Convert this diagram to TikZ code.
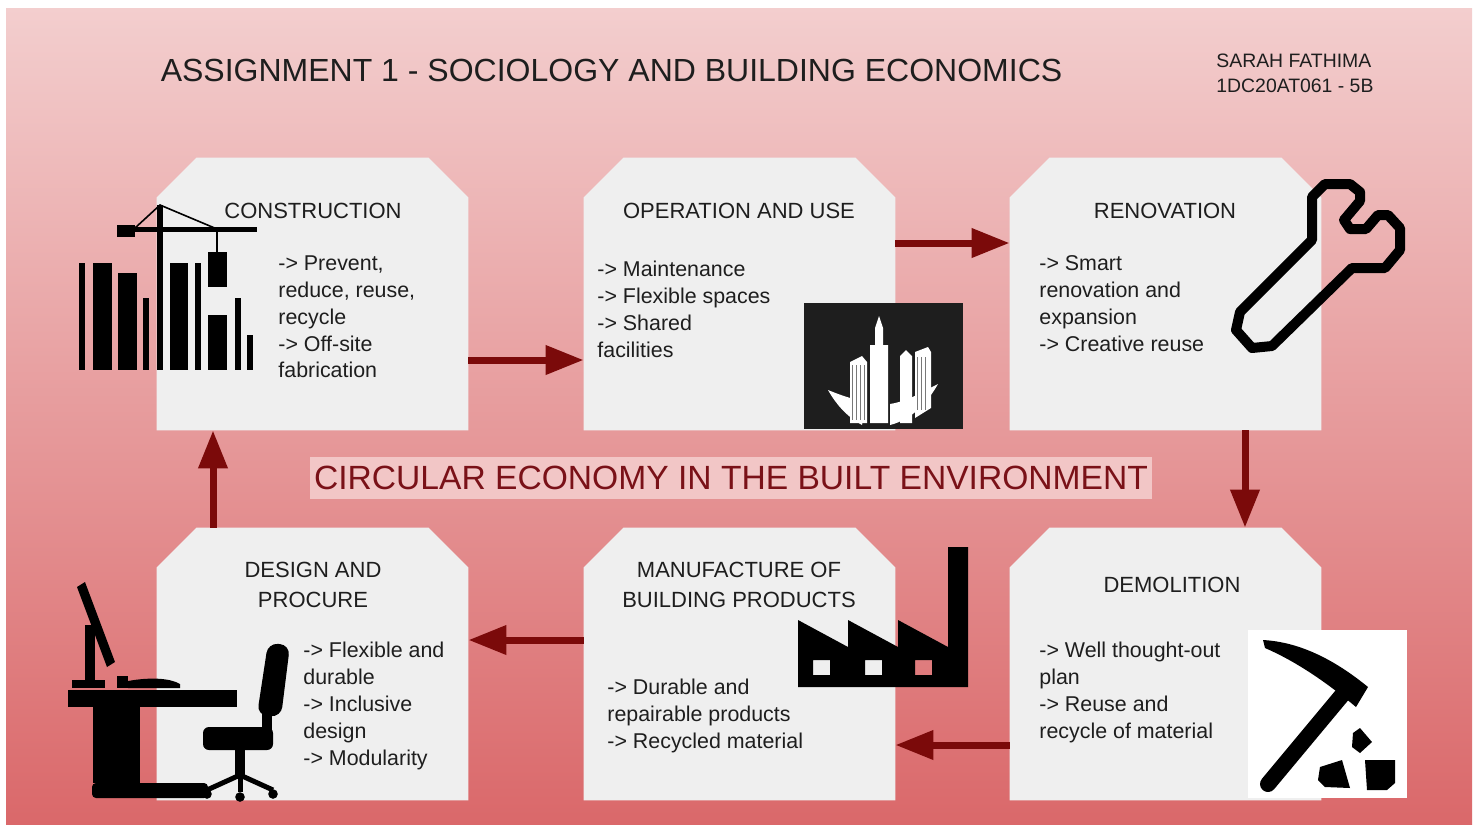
\documentclass[tikz,border=0pt]{standalone}
\usepackage{fontspec}
\setmainfont{Liberation Sans}
\usetikzlibrary{arrows.meta}

\definecolor{bgtop}{HTML}{F3CECE}
\definecolor{bgmid}{HTML}{E9A2A2}
\definecolor{bgbot}{HTML}{DA686A}
\definecolor{panel}{HTML}{EFEFEF}
\definecolor{maroon}{HTML}{7B0A0A}
\definecolor{bandpink}{HTML}{F2C6C6}
\definecolor{bandtxt}{HTML}{7A1118}
\definecolor{darktxt}{HTML}{1E1E1E}
\definecolor{cityblack}{HTML}{1E1E1E}

\begin{document}
\begin{tikzpicture}[x=0.5pt,y=-0.5pt,
    stage/.style={rectangle, minimum width=155.5pt, minimum height=136pt, inner sep=0pt},
    flow/.style={maroon, line width=3.5pt, -{Triangle[length=19pt,width=14pt]}},
    headtxt/.style={darktxt, font=\fontsize{11}{15}\selectfont, align=center, inner sep=0pt},
    bodytxt/.style={darktxt, font=\fontsize{10.7}{13.4}\selectfont, align=left, anchor=north west, inner sep=0pt}]

    \useasboundingbox (0,0) rectangle (1478,827);
    \shade[top color=bgtop, middle color=bgmid, bottom color=bgbot] (6,8) rectangle (1472,824); % backdrop

    % headings
    \node[darktxt, font=\fontsize{16}{18}\selectfont, inner sep=0pt] (title) at (611.5,70) {ASSIGNMENT 1 - SOCIOLOGY AND BUILDING ECONOMICS};
    \node[darktxt, font=\fontsize{9.7}{12.5}\selectfont, align=left, anchor=north west, inner sep=0pt] (student) at (1216,54) {SARAH FATHIMA\\1DC20AT061 - 5B};

    % the six stages
    \node[stage] (cons) at (312.5,294) {};
    \node[stage] (oper) at (739.5,294) {};
    \node[stage] (renov) at (1165.5,294) {};
    \node[stage] (design) at (312.5,664) {};
    \node[stage] (manu) at (739.5,664) {};
    \node[stage] (demo) at (1165.5,664) {};
    \foreach \s in {cons,oper,renov,design,manu,demo}
        \fill[panel] (\s.south west) -- ([yshift=-20pt]\s.north west) -- ([xshift=20pt]\s.north west)
            -- ([xshift=-20pt]\s.north east) -- ([yshift=-20pt]\s.north east) -- (\s.south east) -- cycle;

    % crane and blocks
    \fill (79,263) rectangle (85,370);
    \fill (93,263) rectangle (112,370);
    \fill (118,273) rectangle (137,370);
    \fill (143,298) rectangle (149,370);
    \fill (157,205) rectangle (163,370); % mast
    \fill (170,263) rectangle (188,370);
    \fill (195,263) rectangle (201,370);
    \fill (208,315) rectangle (227,370);
    \fill (208,252) rectangle (227,287); % load on the hook
    \fill (235,298) rectangle (241,370);
    \fill (247,335) rectangle (253,370);
    \fill (117,227) rectangle (257,232); % jib
    \fill (117,225) rectangle (135,237);
    \draw[line width=1pt] (217,232) -- (217,252);
    \draw[line width=0.8pt] (135,228) -- (160,205) -- (217,229);

    % city tile
    \fill[cityblack] (804,303) rectangle (963,429);
    \fill[white] (870,423) -- (870,345) -- (875,345) -- (875,328) -- (879,316) -- (883,328) -- (883,345) -- (888,345) -- (888,423) -- cycle;
    \fill[white] (850,423) -- (850,362) -- (862,356) -- (867,362) -- (867,423) -- cycle;
    \fill[white] (900,423) -- (900,356) -- (906,350) -- (912,356) -- (912,423) -- cycle;
    \fill[white] (915,418) -- (915,352) -- (928,347) -- (931,352) -- (931,408) -- cycle;
    \fill[white] (828,390) .. controls (836,404) and (846,416) .. (862,425) -- (866,402) .. controls (852,399) and (840,395) .. (828,390);
    \fill[white] (890,425) .. controls (910,420) and (926,405) .. (938,384) -- (922,392) .. controls (912,398) and (902,402) .. (890,404) -- cycle;
    \foreach \k in {0,1,2,3} \draw[cityblack!60, line width=0.4pt] (852+\k*4,365) -- (852+\k*4,420);
    \foreach \k in {0,1,2} \draw[cityblack!60, line width=0.4pt] (917+\k*4,357) -- (917+\k*4,410);

    % wrench
    \draw[line width=5pt, line join=round] (1240,312) -- (1236,330) -- (1252,348) -- (1272,346) -- (1352,268)
        -- (1385,268) -- (1400,250) -- (1400,228) -- (1388,215) -- (1378,215) -- (1366,229) -- (1350,229)
        -- (1344,220) -- (1360,201) -- (1360,192) -- (1350,184) -- (1325,184) -- (1312,197) -- (1312,240) -- cycle;

    % desk and chair
    \fill (77,587) -- (85,582) -- (115,662) -- (107,667) -- cycle;
    \fill (85,625) rectangle (95,681);
    \fill (72,680) rectangle (105,688);
    \fill (117,676) rectangle (128,688);
    \fill (128,681) .. controls (150,677) and (170,678) .. (180,684) -- (180,688) -- (128,688) -- cycle;
    \fill (68,690) rectangle (237,707);
    \fill (93,707) rectangle (140,783);
    \fill[rounded corners=2pt] (92,783) rectangle (208,798);
    \fill[rounded corners=5pt] (268,643) -- (290,645) -- (281,717) -- (257,715) -- cycle;
    \fill (262,710) rectangle (272,730);
    \fill[rounded corners=3pt] (203,727) rectangle (273,750);
    \fill (235,750) rectangle (245,775);
    \draw[line width=2.5pt] (207,790) -- (240,775) -- (273,790);
    \draw[line width=2.5pt] (240,775) -- (240,792);
    \fill (207,794) circle (2.4pt) (240,797) circle (2.4pt) (273,794) circle (2.4pt);

    % factory
    \fill[even odd rule] (798,687) -- (798,620) -- (848,647) -- (848,620) -- (898,647) -- (898,620) -- (948,647)
        -- (948,547) -- (968,547) -- (968,687) -- cycle
        (813,660) rectangle (830,675) (865,660) rectangle (882,675) (915,660) rectangle (932,675);

    % pickaxe and rubble
    \fill[white] (1248,630) rectangle (1407,798);
    \fill (1263,640) .. controls (1300,642) and (1335,660) .. (1368,687) -- (1356,707)
        .. controls (1325,681) and (1295,661) .. (1265,648) -- cycle;
    \draw[line width=8pt, line cap=round] (1343,694) -- (1268,784);
    \fill (1320,767) -- (1342,760) -- (1350,788) -- (1325,787) -- (1318,780) -- cycle;
    \fill (1365,760) -- (1395,760) -- (1395,783) -- (1387,790) -- (1367,790) -- cycle;
    \fill (1353,733) -- (1360,728) -- (1372,742) -- (1360,753) -- (1352,747) -- cycle;

    % stage texts
    \node[headtxt] (consT) at (313,211) {CONSTRUCTION};
    \node[bodytxt] (consB) at (278,255.5) {-> Prevent,\\reduce, reuse,\\recycle\\-> Off-site\\fabrication};
    \node[headtxt] (operT) at (739,211) {OPERATION AND USE};
    \node[bodytxt] (operB) at (597,261) {-> Maintenance\\-> Flexible spaces\\-> Shared\\facilities};
    \node[headtxt] (renovT) at (1165,211) {RENOVATION};
    \node[bodytxt] (renovB) at (1039,255.5) {-> Smart\\renovation and\\expansion\\-> Creative reuse};
    \node[headtxt] (designT) at (313,585) {DESIGN AND\\PROCURE};
    \node[bodytxt] (designB) at (303,642) {-> Flexible and\\durable\\-> Inclusive\\design\\-> Modularity};
    \node[headtxt] (manuT) at (739,585) {MANUFACTURE OF\\BUILDING PRODUCTS};
    \node[bodytxt] (manuB) at (607,679) {-> Durable and\\repairable products\\-> Recycled material};
    \node[headtxt] (demoT) at (1172,585) {DEMOLITION};
    \node[bodytxt] (demoB) at (1039,642) {-> Well thought-out\\plan\\-> Reuse and\\recycle of material};

    % centre banner
    \node[fill=bandpink, text=bandtxt, font=\fontsize{16.8}{18}\selectfont, inner sep=0pt,
        minimum width=421pt, minimum height=21pt] (band) at (731,478) {CIRCULAR ECONOMY IN THE BUILT ENVIRONMENT};

    % the cycle
    \draw[flow] ([yshift=-33pt]cons.east) -- ([yshift=-33pt]oper.west);
    \draw[flow] ([yshift=25.5pt]oper.east) -- ([yshift=25.5pt]renov.west);
    \draw[flow] ([xshift=39.75pt]renov.south) -- ([xshift=39.75pt]demo.north);
    \draw[flow] ([yshift=-40.5pt]demo.west) -- ([yshift=-40.5pt]manu.east);
    \draw[flow] ([yshift=12pt]manu.west) -- ([yshift=12pt]design.east);
    \draw[flow] ([xshift=-49.75pt]design.north) -- ([xshift=-49.75pt]cons.south);
\end{tikzpicture}
\end{document}
